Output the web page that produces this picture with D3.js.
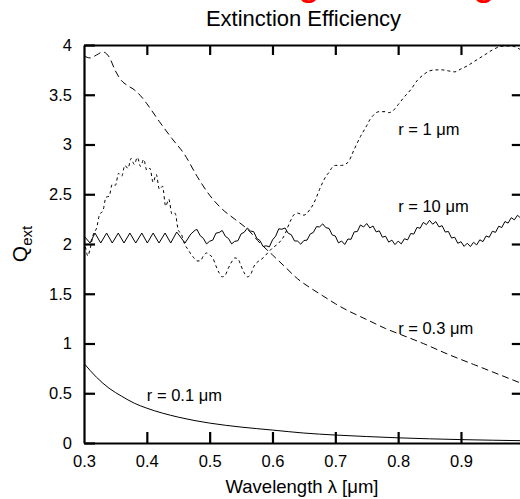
<!DOCTYPE html>
<html>
<head>
<meta charset="utf-8">
<script src="https://cdn.jsdelivr.net/npm/d3@7"></script>
<style>
  body { margin: 0; background: #fff; }
  svg { display: block; font-family: "Liberation Sans", Arial, Helvetica, sans-serif; }
</style>
</head>
<body>
<svg id="chart" width="520" height="499"></svg>
<script>
// wavelength (um) / extinction efficiency pairs
const r01 = [
    [0.30, 0.80], [0.32, 0.66], [0.34, 0.55], [0.36, 0.47], [0.38, 0.40], [0.40, 0.35],
    [0.45, 0.26], [0.50, 0.20], [0.55, 0.16], [0.60, 0.13], [0.65, 0.10], [0.70, 0.08],
    [0.75, 0.065], [0.80, 0.052], [0.85, 0.042], [0.90, 0.034], [0.95, 0.028], [1.00, 0.023]
];

const r03 = [
    [0.30, 3.89], [0.31, 3.87], [0.32, 3.90], [0.33, 3.93], [0.34, 3.88], [0.35, 3.74],
    [0.36, 3.64], [0.37, 3.59], [0.38, 3.55], [0.39, 3.49], [0.40, 3.41], [0.42, 3.23],
    [0.44, 3.06], [0.46, 2.90], [0.48, 2.68], [0.50, 2.49], [0.52, 2.35], [0.54, 2.25],
    [0.56, 2.15], [0.58, 2.01], [0.60, 1.89], [0.62, 1.77], [0.64, 1.65], [0.66, 1.56],
    [0.68, 1.48], [0.70, 1.40], [0.72, 1.33], [0.74, 1.27], [0.76, 1.21], [0.78, 1.15],
    [0.80, 1.10], [0.84, 1.00], [0.88, 0.89], [0.92, 0.79], [0.96, 0.69], [1.00, 0.59]
];

const r1 = [
    [0.300, 2.03], [0.303, 1.95], [0.306, 1.88], [0.310, 1.96], [0.315, 2.10], [0.320, 2.16],
    [0.325, 2.30], [0.330, 2.33], [0.335, 2.47], [0.340, 2.48], [0.345, 2.60], [0.350, 2.59],
    [0.355, 2.71], [0.360, 2.68], [0.365, 2.79], [0.370, 2.76], [0.375, 2.86], [0.380, 2.80],
    [0.385, 2.87], [0.390, 2.78], [0.395, 2.85], [0.400, 2.74], [0.405, 2.76], [0.410, 2.62],
    [0.415, 2.70], [0.420, 2.55], [0.425, 2.58], [0.430, 2.38], [0.435, 2.45], [0.440, 2.30],
    [0.445, 2.31], [0.450, 2.14], [0.455, 2.10], [0.460, 2.00], [0.465, 1.95], [0.470, 1.90],
    [0.475, 1.86], [0.480, 1.83], [0.485, 1.83], [0.490, 1.88], [0.495, 1.91], [0.500, 1.89],
    [0.505, 1.86], [0.510, 1.78], [0.515, 1.71], [0.520, 1.67], [0.525, 1.69], [0.530, 1.76],
    [0.535, 1.82], [0.540, 1.86], [0.545, 1.85], [0.550, 1.78], [0.555, 1.71], [0.560, 1.67],
    [0.565, 1.69], [0.570, 1.77], [0.585, 1.86], [0.600, 1.96], [0.610, 2.01], [0.620, 2.10],
    [0.625, 2.18], [0.630, 2.25], [0.635, 2.30], [0.640, 2.31], [0.645, 2.30], [0.650, 2.29],
    [0.655, 2.31], [0.660, 2.35], [0.665, 2.40], [0.670, 2.47], [0.675, 2.55], [0.680, 2.62],
    [0.685, 2.68], [0.690, 2.72], [0.695, 2.77], [0.700, 2.79], [0.710, 2.79], [0.720, 2.82],
    [0.730, 2.95], [0.740, 3.08], [0.750, 3.19], [0.755, 3.25], [0.760, 3.29], [0.765, 3.32],
    [0.770, 3.33], [0.780, 3.33], [0.785, 3.32], [0.790, 3.33], [0.795, 3.36], [0.800, 3.40],
    [0.810, 3.48], [0.820, 3.55], [0.830, 3.64], [0.840, 3.70], [0.850, 3.74], [0.860, 3.75],
    [0.870, 3.75], [0.880, 3.74], [0.890, 3.73], [0.900, 3.76], [0.910, 3.79], [0.920, 3.83],
    [0.930, 3.87], [0.940, 3.91], [0.950, 3.95], [0.960, 3.98], [0.970, 3.99], [0.980, 3.99],
    [0.990, 3.97], [1.000, 3.93]
];

const r10 = [
    [0.300, 2.08], [0.3096, 2.01], [0.3175, 2.11], [0.3266, 2.01], [0.336, 2.11], [0.345, 2.01],
    [0.3545, 2.11], [0.3637, 2.01], [0.373, 2.11], [0.3823, 2.01], [0.392, 2.11], [0.4008, 2.01],
    [0.410, 2.11], [0.4194, 2.01], [0.429, 2.11], [0.438, 2.01], [0.4475, 2.12], [0.4608, 2.01],
    [0.470, 2.10], [0.477, 2.14],
    [0.480, 2.145], [0.485, 2.083], [0.490, 2.057], [0.495, 2.001], [0.500, 2.028], [0.505, 2.039],
    [0.510, 2.109], [0.515, 2.115], [0.520, 2.136], [0.525, 2.077], [0.530, 2.055], [0.535, 2.001],
    [0.540, 2.027], [0.545, 2.033], [0.550, 2.101], [0.555, 2.118], [0.560, 2.161], [0.565, 2.130],
    [0.570, 2.125], [0.575, 2.057], [0.580, 2.035], [0.585, 1.975], [0.590, 1.982], [0.595, 1.971],
    [0.600, 2.041], [0.605, 2.078], [0.610, 2.153], [0.615, 2.148], [0.620, 2.161], [0.625, 2.108],
    [0.630, 2.093], [0.635, 2.031], [0.640, 2.029], [0.645, 1.998], [0.650, 2.035], [0.655, 2.039],
    [0.660, 2.100], [0.665, 2.116], [0.670, 2.174], [0.675, 2.172], [0.680, 2.202], [0.685, 2.164],
    [0.690, 2.157], [0.695, 2.092], [0.700, 2.080], [0.705, 2.011], [0.710, 2.030], [0.715, 1.995],
    [0.720, 2.050], [0.725, 2.047], [0.730, 2.122], [0.735, 2.125], [0.740, 2.191], [0.745, 2.171],
    [0.750, 2.206], [0.755, 2.161], [0.760, 2.181], [0.765, 2.122], [0.770, 2.132], [0.775, 2.068],
    [0.780, 2.078], [0.785, 2.019], [0.790, 2.039], [0.795, 1.994], [0.800, 2.029], [0.805, 2.001],
    [0.810, 2.053], [0.815, 2.041], [0.820, 2.105], [0.825, 2.100], [0.830, 2.167], [0.835, 2.158],
    [0.840, 2.217], [0.845, 2.195], [0.850, 2.238], [0.855, 2.199], [0.860, 2.225], [0.865, 2.172],
    [0.870, 2.184], [0.875, 2.120], [0.880, 2.126], [0.885, 2.060], [0.890, 2.068], [0.895, 2.007],
    [0.900, 2.023], [0.905, 1.976], [0.910, 2.008], [0.915, 1.974], [0.920, 2.017], [0.925, 1.991],
    [0.930, 2.042], [0.935, 2.024], [0.940, 2.081], [0.945, 2.068], [0.950, 2.128], [0.955, 2.117],
    [0.960, 2.178], [0.965, 2.166], [0.970, 2.226], [0.975, 2.210], [0.980, 2.264], [0.985, 2.243],
    [0.990, 2.289], [0.995, 2.260], [1.000, 2.298]
];

const xTicks = [0.3, 0.4, 0.5, 0.6, 0.7, 0.8, 0.9];
const xTickLabels = ["0.3", "0.4", "0.5", "0.6", "0.7", "0.8", "0.9"];
const yTicks = [0, 0.5, 1, 1.5, 2, 2.5, 3, 3.5, 4];
const yTickLabels = ["0", "0.5", "1", "1.5", "2", "2.5", "3", "3.5", "4"];

const curveLabels = [
    {text: "r = 0.1 \u03bcm", at: [0.40, 0.42]},
    {text: "r = 0.3 \u03bcm", at: [0.80, 1.10]},
    {text: "r = 1 \u03bcm", at: [0.80, 3.10]},
    {text: "r = 10 \u03bcm", at: [0.80, 2.32]}
];

const svg = d3.select("#chart");
const mLeft = 84, mRight = 523.8, mTop = 45, mBottom = 443;

const x = d3.scaleLinear().domain([0.3, 1.0]).range([mLeft, mRight]);
const y = d3.scaleLinear().domain([0, 4]).range([mBottom, mTop]);

// red heading, cut off by the top of the window: only the descenders of its two g's show
const head = svg.append("text")
    .attr("y", -6)
    .attr("fill", "#f00")
    .style("font-size", "38px")
    .text("Mie Scattering Modeling");
function gCentres() {
    const t = head.text();
    const i1 = t.indexOf("g"), i2 = t.lastIndexOf("g");
    const b1 = head.node().getExtentOfChar(i1), b2 = head.node().getExtentOfChar(i2);
    return [b1.x + b1.width / 2, b2.x + b2.width / 2];
}
let gc = gCentres();
const headSize = 38 * 175 / (gc[1] - gc[0]);
head.style("font-size", headSize + "px").attr("y", 3 - 0.21 * headSize);
gc = gCentres();
head.attr("x", 309 - gc[0]);

svg.append("text")
    .attr("x", 303.5)
    .attr("y", 26)
    .attr("text-anchor", "middle")
    .style("font-size", "22px")
    .text("Extinction Efficiency");

svg.append("defs").append("clipPath").attr("id", "plot-clip")
    .append("rect")
    .attr("x", mLeft).attr("y", mTop)
    .attr("width", mRight - mLeft).attr("height", mBottom - mTop);

const line = d3.line()
    .x(d => x(d[0]))
    .y(d => y(d[1]));

const plot = svg.append("g").attr("clip-path", "url(#plot-clip)");

plot.append("path").datum(r01)
    .attr("d", line.curve(d3.curveMonotoneX))
    .attr("fill", "none").attr("stroke", "#000").attr("stroke-width", 1);

plot.append("path").datum(r03)
    .attr("d", line.curve(d3.curveMonotoneX))
    .attr("fill", "none").attr("stroke", "#000").attr("stroke-width", 1)
    .attr("stroke-dasharray", "7,4");

plot.append("path").datum(r1)
    .attr("d", line.curve(d3.curveMonotoneX))
    .attr("fill", "none").attr("stroke", "#000").attr("stroke-width", 1)
    .attr("stroke-dasharray", "3,3");

plot.append("path").datum(r10)
    .attr("d", line.curve(d3.curveLinear))
    .attr("fill", "none").attr("stroke", "#000").attr("stroke-width", 1);

svg.selectAll(".curve-label")
    .data(curveLabels)
    .join("text")
    .attr("class", "curve-label")
    .attr("x", d => x(d.at[0]))
    .attr("y", d => y(d.at[1]))
    .style("font-size", "16.5px")
    .text(d => d.text);

// axes: labels on bottom/left, bare ticks on top/right
const fmtX = d => xTickLabels[xTicks.indexOf(d)];
const fmtY = d => yTickLabels[yTicks.indexOf(d)];

const xAxis = svg.append("g")
    .attr("transform", `translate(0,${mBottom})`)
    .call(d3.axisBottom(x).tickValues(xTicks).tickFormat(fmtX)
        .tickSizeInner(-11).tickSizeOuter(0).tickPadding(12));

const yAxis = svg.append("g")
    .attr("transform", `translate(${mLeft},0)`)
    .call(d3.axisLeft(y).tickValues(yTicks).tickFormat(fmtY)
        .tickSizeInner(-11).tickSizeOuter(0).tickPadding(12));

const topAxis = svg.append("g")
    .attr("transform", `translate(0,${mTop})`)
    .call(d3.axisTop(x).tickValues(xTicks.slice(1)).tickFormat("")
        .tickSizeInner(-10).tickSizeOuter(0));

const rightAxis = svg.append("g")
    .attr("transform", `translate(${mRight},0)`)
    .call(d3.axisRight(y).tickValues(yTicks.slice(1, -1)).tickFormat("")
        .tickSizeInner(-12).tickSizeOuter(0));

[xAxis, yAxis, topAxis, rightAxis].forEach(a => {
    a.select(".domain").attr("stroke", "#000").attr("stroke-width", 2.2);
    a.selectAll(".tick line").attr("stroke", "#000").attr("stroke-width", 2.2);
    a.selectAll(".tick text")
        .attr("fill", "#000")
        .style("font-size", "16.5px")
        .style("font-family", "\"Liberation Sans\", Arial, Helvetica, sans-serif");
});
xAxis.select(".tick line").remove();

svg.append("text")
    .attr("x", 302)
    .attr("y", 493)
    .attr("text-anchor", "middle")
    .style("font-size", "18.5px")
    .text("Wavelength \u03bb [\u03bcm]");

const yTitle = svg.append("text")
    .attr("transform", "translate(27,244) rotate(-90)")
    .attr("text-anchor", "middle")
    .style("font-size", "21px");
yTitle.append("tspan").text("Q");
yTitle.append("tspan").attr("dy", 5).style("font-size", "15px").text("ext");
</script>
</body>
</html>
